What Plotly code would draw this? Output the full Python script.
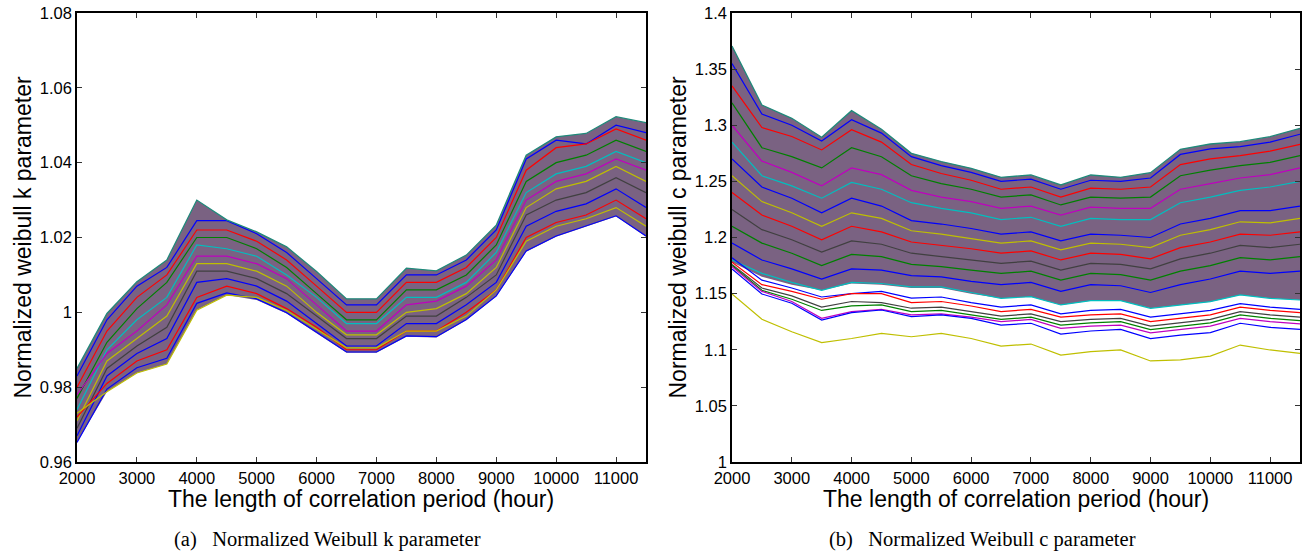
import plotly.graph_objects as go

# ---------------- data ----------------
hours = [2000, 2500, 3000, 3500, 4000, 4500, 5000, 5500, 6000, 6500,
         7000, 7500, 8000, 8500, 9000, 9500, 10000, 10500, 11000, 11500]

# Panel (a): normalized Weibull k parameter (envelope + representative lines)
k_top = [0.985, 0.9997, 1.0082, 1.014, 1.030, 1.0247, 1.0215, 1.0175, 1.0109, 1.0036,
         1.0036, 1.0118, 1.0111, 1.0153, 1.0233, 1.0420, 1.0469, 1.0478, 1.0523, 1.0507]
k_bottom = [0.9652, 0.9788, 0.9838, 0.9862, 1.0006, 1.0046, 1.0033, 0.9997, 0.9944, 0.9892,
            0.9892, 0.9935, 0.9933, 0.9979, 1.0042, 1.0162, 1.0202, 1.0229, 1.0256, 1.0202]
k_lines = [
    [0.983, 0.998, 1.007, 1.012, 1.0245, 1.0245, 1.021, 1.016, 1.009, 1.002, 1.002, 1.010, 1.010, 1.014, 1.022, 1.041, 1.046, 1.045, 1.050, 1.048],
    [0.980, 0.995, 1.004, 1.010, 1.022, 1.022, 1.019, 1.014, 1.007, 1.000, 1.000, 1.008, 1.008, 1.012, 1.020, 1.038, 1.044, 1.045, 1.049, 1.046],
    [0.977, 0.992, 1.001, 1.008, 1.020, 1.020, 1.017, 1.012, 1.005, 0.998, 0.998, 1.006, 1.006, 1.010, 1.018, 1.035, 1.040, 1.042, 1.046, 1.043],
    [0.974, 0.990, 0.998, 1.004, 1.018, 1.017, 1.015, 1.010, 1.004, 0.997, 0.997, 1.004, 1.004, 1.008, 1.016, 1.032, 1.037, 1.039, 1.043, 1.040],
    [0.978, 0.989, 0.995, 1.002, 1.015, 1.015, 1.013, 1.009, 1.002, 0.995, 0.995, 1.002, 1.003, 1.007, 1.014, 1.030, 1.035, 1.037, 1.041, 1.038],
    [0.971, 0.987, 0.993, 0.999, 1.013, 1.013, 1.011, 1.007, 1.000, 0.994, 0.994, 1.000, 1.001, 1.005, 1.012, 1.028, 1.033, 1.035, 1.039, 1.035],
    [0.969, 0.985, 0.991, 0.996, 1.011, 1.011, 1.009, 1.005, 0.999, 0.993, 0.993, 0.999, 0.999, 1.004, 1.010, 1.026, 1.030, 1.032, 1.036, 1.032],
    [0.967, 0.983, 0.989, 0.993, 1.008, 1.009, 1.007, 1.003, 0.997, 0.991, 0.991, 0.997, 0.997, 1.002, 1.008, 1.023, 1.027, 1.029, 1.033, 1.028],
    [0.972, 0.981, 0.987, 0.990, 1.004, 1.007, 1.005, 1.001, 0.996, 0.990, 0.990, 0.995, 0.995, 1.000, 1.006, 1.020, 1.024, 1.026, 1.030, 1.025],
    [0.9652, 0.9795, 0.9852, 0.9877, 1.0024, 1.0052, 1.0036, 0.9999, 0.9947, 0.9894, 0.9894, 0.9937, 0.9935, 0.9981, 1.0044, 1.0164, 1.0204, 1.0231, 1.0258, 1.0204],
    [0.973, 0.9788, 0.9838, 0.9862, 1.0006, 1.0046, 1.0040, 1.0005, 0.9955, 0.9905, 0.9905, 0.995, 0.995, 0.999, 1.006, 1.019, 1.023, 1.025, 1.028, 1.023],
]
k_colors = ["#0000ff", "#ff0000", "#008000", "#00bfbf", "#bf00bf", "#bfbf00",
            "#404040", "#0000ff", "#ff0000", "#0000ff", "#bfbf00"]

# Panel (b): normalized Weibull c parameter
c_top = [1.3706, 1.318, 1.3062, 1.2893, 1.313, 1.2964, 1.275, 1.2676, 1.2616, 1.2536,
         1.2557, 1.2468, 1.2557, 1.2536, 1.2577, 1.2786, 1.2833, 1.2854, 1.2898, 1.2973]
c_dense_bottom = [1.178, 1.165, 1.158, 1.153, 1.159, 1.158, 1.155, 1.155, 1.150, 1.1458,
                  1.1473, 1.1399, 1.1437, 1.1437, 1.1369, 1.1399, 1.1428, 1.1488, 1.1458, 1.1443]
c_lines = [
    [1.355, 1.310, 1.300, 1.286, 1.305, 1.293, 1.272, 1.264, 1.258, 1.250, 1.252, 1.243, 1.251, 1.250, 1.253, 1.274, 1.279, 1.281, 1.285, 1.292],
    [1.335, 1.298, 1.290, 1.278, 1.296, 1.285, 1.265, 1.257, 1.251, 1.243, 1.245, 1.236, 1.244, 1.243, 1.245, 1.265, 1.270, 1.273, 1.277, 1.283],
    [1.320, 1.280, 1.272, 1.262, 1.280, 1.272, 1.255, 1.248, 1.243, 1.236, 1.238, 1.229, 1.236, 1.235, 1.236, 1.255, 1.260, 1.264, 1.267, 1.273],
    [1.300, 1.268, 1.258, 1.246, 1.262, 1.256, 1.242, 1.236, 1.232, 1.226, 1.228, 1.220, 1.227, 1.226, 1.226, 1.243, 1.248, 1.253, 1.256, 1.262],
    [1.285, 1.255, 1.246, 1.235, 1.249, 1.243, 1.231, 1.226, 1.222, 1.216, 1.218, 1.210, 1.217, 1.216, 1.216, 1.231, 1.236, 1.242, 1.245, 1.250],
    [1.270, 1.245, 1.235, 1.222, 1.235, 1.228, 1.215, 1.212, 1.208, 1.203, 1.205, 1.197, 1.203, 1.202, 1.200, 1.212, 1.217, 1.224, 1.224, 1.228],
    [1.255, 1.232, 1.222, 1.210, 1.222, 1.217, 1.206, 1.203, 1.199, 1.195, 1.197, 1.189, 1.195, 1.194, 1.191, 1.202, 1.207, 1.214, 1.213, 1.217],
    [1.240, 1.220, 1.210, 1.198, 1.210, 1.205, 1.196, 1.193, 1.190, 1.186, 1.188, 1.180, 1.186, 1.185, 1.181, 1.191, 1.196, 1.203, 1.202, 1.205],
    [1.225, 1.207, 1.198, 1.187, 1.197, 1.194, 1.186, 1.183, 1.180, 1.177, 1.179, 1.171, 1.177, 1.176, 1.172, 1.181, 1.186, 1.193, 1.191, 1.194],
    [1.210, 1.195, 1.186, 1.175, 1.185, 1.183, 1.176, 1.174, 1.171, 1.168, 1.170, 1.162, 1.168, 1.167, 1.162, 1.170, 1.175, 1.182, 1.180, 1.183],
    [1.195, 1.180, 1.172, 1.163, 1.172, 1.171, 1.166, 1.165, 1.161, 1.158, 1.160, 1.152, 1.158, 1.157, 1.151, 1.158, 1.163, 1.170, 1.168, 1.170],
    [1.180, 1.168, 1.160, 1.153, 1.160, 1.159, 1.156, 1.156, 1.151, 1.1458, 1.1473, 1.1399, 1.1437, 1.1437, 1.1369, 1.1399, 1.1428, 1.1488, 1.1458, 1.1443],
    [1.182, 1.162, 1.155, 1.147, 1.150, 1.152, 1.146, 1.147, 1.142, 1.138, 1.140, 1.132, 1.135, 1.136, 1.129, 1.132, 1.135, 1.141, 1.138, 1.136],
    [1.178, 1.158, 1.152, 1.145, 1.150, 1.150, 1.142, 1.143, 1.139, 1.134, 1.136, 1.129, 1.131, 1.132, 1.125, 1.128, 1.131, 1.138, 1.135, 1.133],
    [1.176, 1.155, 1.148, 1.138, 1.143, 1.142, 1.137, 1.138, 1.134, 1.130, 1.132, 1.125, 1.127, 1.128, 1.121, 1.124, 1.127, 1.134, 1.131, 1.129],
    [1.175, 1.153, 1.145, 1.135, 1.139, 1.140, 1.134, 1.135, 1.131, 1.127, 1.129, 1.122, 1.124, 1.125, 1.118, 1.121, 1.124, 1.131, 1.128, 1.126],
    [1.174, 1.152, 1.143, 1.128, 1.134, 1.136, 1.131, 1.132, 1.129, 1.125, 1.127, 1.119, 1.121, 1.122, 1.115, 1.118, 1.121, 1.128, 1.125, 1.123],
    [1.172, 1.1497, 1.1414, 1.1265, 1.133, 1.1354, 1.1295, 1.131, 1.128, 1.122, 1.1236, 1.114, 1.1167, 1.1182, 1.110, 1.1131, 1.1152, 1.1236, 1.120, 1.1182],
    [1.1497, 1.1271, 1.116, 1.1063, 1.110, 1.1146, 1.1116, 1.1146, 1.110, 1.1033, 1.1051, 1.0953, 1.0983, 1.0998, 1.090, 1.0909, 1.0944, 1.1042, 1.0998, 1.0968],
]
c_colors = ["#0000ff", "#ff0000", "#008000", "#bf00bf", "#00bfbf", "#0000ff",
            "#bfbf00", "#ff0000", "#404040", "#008000", "#0000ff", "#00bfbf",
            "#0000ff", "#ff0000", "#404040", "#008000", "#bf00bf", "#0000ff", "#bfbf00"]

k_yticks = [0.96, 0.98, 1.0, 1.02, 1.04, 1.06, 1.08]
k_yticktext = ["0.96", "0.98", "1", "1.02", "1.04", "1.06", "1.08"]
c_yticks = [1.0, 1.05, 1.1, 1.15, 1.2, 1.25, 1.3, 1.35, 1.4]
c_yticktext = ["1", "1.05", "1.1", "1.15", "1.2", "1.25", "1.3", "1.35", "1.4"]
xticks = [2000, 3000, 4000, 5000, 6000, 7000, 8000, 9000, 10000, 11000]
xticktext = ["2000", "3000", "4000", "5000", "6000", "7000", "8000", "9000", "10000", "11000"]

band_color = "rgb(122,98,130)"
edge_color = "#1f8a7a"

# ---------------- figure ----------------
fig = go.Figure()

# panel (a): band + lines
fig.add_trace(go.Scatter(x=hours, y=k_top, mode="lines", line=dict(width=0),
                         xaxis="x", yaxis="y", hoverinfo="skip"))
fig.add_trace(go.Scatter(x=hours, y=k_bottom, mode="lines", line=dict(width=0),
                         fill="tonexty", fillcolor=band_color,
                         xaxis="x", yaxis="y", hoverinfo="skip"))
for vals, col in zip(k_lines, k_colors):
    fig.add_trace(go.Scatter(x=hours, y=vals, mode="lines", line=dict(color=col, width=1.2),
                             xaxis="x", yaxis="y"))
fig.add_trace(go.Scatter(x=hours, y=k_top, mode="lines", line=dict(color=edge_color, width=1.3),
                         xaxis="x", yaxis="y"))

# panel (b): band + lines
fig.add_trace(go.Scatter(x=hours, y=c_top, mode="lines", line=dict(width=0),
                         xaxis="x2", yaxis="y2", hoverinfo="skip"))
fig.add_trace(go.Scatter(x=hours, y=c_dense_bottom, mode="lines", line=dict(width=0),
                         fill="tonexty", fillcolor=band_color,
                         xaxis="x2", yaxis="y2", hoverinfo="skip"))
for vals, col in zip(c_lines, c_colors):
    fig.add_trace(go.Scatter(x=hours, y=vals, mode="lines", line=dict(color=col, width=1.2),
                             xaxis="x2", yaxis="y2"))
fig.add_trace(go.Scatter(x=hours, y=c_top, mode="lines", line=dict(color=edge_color, width=1.3),
                         xaxis="x2", yaxis="y2"))

W, H = 1307, 554
def px(v):
    return v / W
def py(v):
    return 1 - v / H

tickfont = dict(family="Liberation Sans, Arial, sans-serif", size=16.5, color="black")
axis_common = dict(showline=True, linecolor="black", linewidth=1.5, mirror="allticks",
                   ticks="inside", ticklen=5, tickwidth=1, tickcolor="#333333",
                   showgrid=False, zeroline=False, tickfont=tickfont, automargin=False)

fig.update_layout(
    width=W, height=H,
    margin=dict(l=0, r=0, t=0, b=0, autoexpand=False),
    paper_bgcolor="white", plot_bgcolor="white",
    showlegend=False, hovermode=False,
    xaxis=dict(domain=[px(77), px(646)], range=[2000, 11500], tickvals=xticks,
               ticktext=xticktext, anchor="y", **axis_common),
    yaxis=dict(domain=[py(462), py(13)], range=[0.96, 1.08], tickvals=k_yticks,
               ticktext=k_yticktext, anchor="x", **axis_common),
    xaxis2=dict(domain=[px(732), px(1300)], range=[2000, 11500], tickvals=xticks,
                ticktext=xticktext, anchor="y2", **axis_common),
    yaxis2=dict(domain=[py(462), py(13)], range=[1.0, 1.4], tickvals=c_yticks,
                ticktext=c_yticktext, anchor="x2", **axis_common),
)

titlefont = dict(family="Liberation Sans, Arial, sans-serif", size=23, color="black")
capfont = dict(family="Liberation Serif, Times New Roman, serif", size=20.5, color="black")
ann = [
    dict(text="The length of correlation period (hour)", x=px(361), y=py(499),
         font=titlefont),
    dict(text="The length of correlation period (hour)", x=px(1016), y=py(499),
         font=titlefont),
    dict(text="Normalized weibull k parameter", x=px(22), y=py(237.5),
         textangle=-90, font=titlefont),
    dict(text="Normalized weibull c parameter", x=px(677), y=py(237.5),
         textangle=-90, font=titlefont),
    dict(text="(a)\u00a0\u00a0\u00a0Normalized Weibull k parameter", x=px(172), y=py(539),
         xanchor="left", font=capfont),
    dict(text="(b)\u00a0\u00a0\u00a0Normalized Weibull c parameter", x=px(827), y=py(539),
         xanchor="left", font=capfont),
]
for a in ann:
    a.setdefault("xanchor", "center")
    fig.add_annotation(xref="paper", yref="paper", yanchor="middle", showarrow=False, **a)

fig.write_html("out.html")
